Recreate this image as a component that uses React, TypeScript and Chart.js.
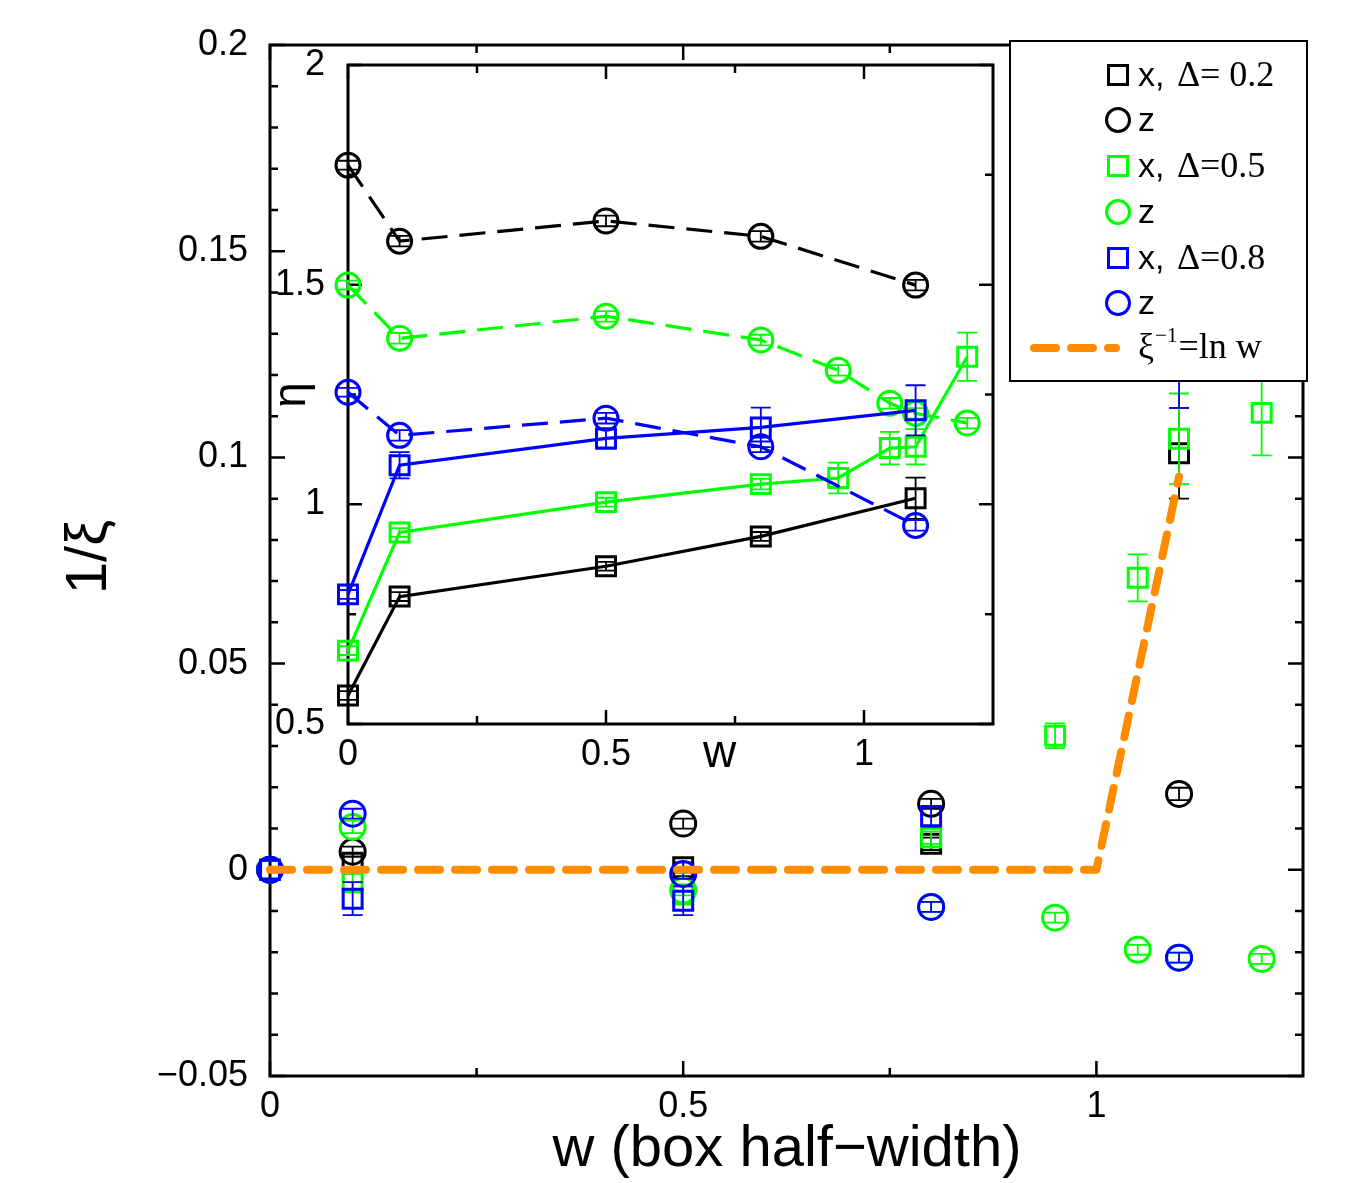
import React, { useEffect, useRef } from 'react';
import { Chart, registerables } from 'chart.js';

Chart.register(...registerables);

// ---------- colours ----------
const BLACK = '#000000';
const GREEN = '#00ff00';
const BLUE = '#0000ff';
const ORANGE = '#ff8c00';

// ---------- main panel: 1/xi versus box half-width w ----------
const wSparse = [0, 0.1, 0.5, 0.8, 1.1];
const wDense = [0, 0.1, 0.5, 0.8, 0.95, 1.05, 1.1, 1.2];

const invXiX02 = [0, 0.0017, 0.0006, 0.0063, 0.101];
const invXiX02Err = [0, 0.0015, 0.0012, 0.0015, 0.011];
const invXiZ02 = [0, 0.0044, 0.0112, 0.016, 0.0184];
const invXiZ02Err = [0, 0.0012, 0.0012, 0.0012, 0.0015];

const invXiX05 = [0, -0.003, -0.006, 0.0078, 0.0325, 0.0708, 0.1045, 0.1108];
const invXiX05Err = [0, 0.002, 0.002, 0.0015, 0.003, 0.0057, 0.011, 0.0103];
const invXiZ05 = [0, 0.0104, -0.005, -0.009, -0.0116, -0.0194, -0.0213, -0.0216];
const invXiZ05Err = [0, 0.0015, 0.0012, 0.0012, 0.0012, 0.0012, 0.0012, 0.0012];

const invXiX08 = [0, -0.007, -0.0075, 0.013, 0.13];
const invXiX08Err = [0, 0.004, 0.0035, 0.0025, 0.018];
const invXiZ08 = [0, 0.0136, -0.001, -0.009, -0.0213];
const invXiZ08Err = [0, 0.0012, 0.0012, 0.0012, 0.0012];

const lnFitW = [0, 1, 1.1];
const lnFitInvXi = [0, 0, 0.0953];

const mainXTicks = [0, 0.5, 1];
const mainYTicks = [-0.05, 0, 0.05, 0.1, 0.15, 0.2];

// ---------- inset: exponent eta versus w ----------
const etaX02 = [0.565, 0.79, 0.859, 0.927, 1.014];
const etaX02Err = [0.01, 0.01, 0.01, 0.01, 0.047];
const etaZ02 = [1.772, 1.599, 1.645, 1.61, 1.499];
const etaZ02Err = [0.01, 0.012, 0.012, 0.012, 0.012];

const etaX05 = [0.667, 0.936, 1.005, 1.046, 1.06, 1.128, 1.131, 1.336];
const etaX05Err = [0.01, 0.01, 0.01, 0.012, 0.035, 0.037, 0.04, 0.055];
const etaZ05 = [1.499, 1.378, 1.428, 1.374, 1.305, 1.23, 1.207, 1.185];
const etaZ05Err = [0.01, 0.012, 0.012, 0.012, 0.012, 0.012, 0.012, 0.012];

const etaX08 = [0.795, 1.089, 1.15, 1.175, 1.214];
const etaX08Err = [0.01, 0.03, 0.023, 0.045, 0.057];
const etaZ08 = [1.255, 1.157, 1.196, 1.131, 0.952];
const etaZ08Err = [0.01, 0.012, 0.012, 0.012, 0.012];

const insetXTicks = [0, 0.5, 1];
const insetYTicks = [0.5, 1, 1.5, 2];

// ---------- text ----------
const mainXTitle = 'w (box half\u2212width)';
const mainYTitle = '1/\u03be';
const insetXTitle = 'w';
const insetYTitle = '\u03b7';
const legendSans = ['x, ', 'z', 'x, ', 'z', 'x, ', 'z'];
const legendSerif = ['\u0394= 0.2', '', '\u0394=0.5', '', '\u0394=0.8', ''];
const legendMarkers = ['rect', 'circle', 'rect', 'circle', 'rect', 'circle'];
const legendColors = [BLACK, BLACK, GREEN, GREEN, BLUE, BLUE];
const fitLabelBase = '\u03be';
const fitLabelSup = '\u22121';
const fitLabelRest = '=ln w';

const SANS = '"Liberation Sans", Arial, sans-serif';
const SERIF = '"Liberation Serif", "Times New Roman", serif';
const TICK_SIZE = 36;

const fmtTick = (v: number) => String(parseFloat(Number(v).toFixed(2))).replace('-', '\u2212');

const steps = (a: number, b: number, s: number) => {
  const out: number[] = [];
  const n = Math.round((b - a) / s);
  for (let i = 0; i <= n; i++) out.push(+(a + i * s).toFixed(6));
  return out;
};

function markerSet(
  label: string, xs: number[], ys: number[], errs: number[], color: string,
  style: string, radius: number, order: number, line?: 'solid' | 'dashed'
) {
  return {
    label,
    data: xs.map((x, i) => ({ x, y: ys[i] })),
    errors: errs,
    pointStyle: style,
    pointRadius: radius,
    pointHoverRadius: radius,
    pointBorderWidth: 3,
    pointHoverBorderWidth: 3,
    pointBorderColor: color,
    pointBackgroundColor: 'rgba(0,0,0,0)',
    borderColor: color,
    backgroundColor: 'rgba(0,0,0,0)',
    showLine: !!line,
    borderWidth: 3.2,
    borderDash: line === 'dashed' ? [26, 12] : [],
    order,
    clip: false,
  };
}

// vertical error bars drawn right after each dataset
const errorBarPlugin = {
  id: 'errorBars',
  afterDatasetDraw(chart: any, args: any) {
    const ds = chart.data.datasets[args.index];
    const errs: number[] | undefined = ds.errors;
    if (!errs) return;
    const ys = chart.scales.y;
    const ctx = chart.ctx;
    ctx.save();
    ctx.strokeStyle = ds.borderColor;
    ctx.lineWidth = 1.8;
    ctx.setLineDash([]);
    args.meta.data.forEach((pt: any, i: number) => {
      const e = errs[i];
      if (!e) return;
      const v = ds.data[i].y;
      const top = ys.getPixelForValue(v + e);
      const bot = ys.getPixelForValue(v - e);
      const cw = 10;
      ctx.beginPath();
      ctx.moveTo(pt.x, top);
      ctx.lineTo(pt.x, bot);
      ctx.moveTo(pt.x - cw, top);
      ctx.lineTo(pt.x + cw, top);
      ctx.moveTo(pt.x - cw, bot);
      ctx.lineTo(pt.x + cw, bot);
      ctx.stroke();
    });
    ctx.restore();
  },
};

// box frame with inward ticks on all four sides
function framePlugin(o: {
  xMajor: number[]; xMinor: number[]; yMajor: number[]; yMinor: number[];
  major: number; minor: number; width: number;
}) {
  return {
    id: 'frame',
    beforeDatasetsDraw(chart: any) {
      const { ctx, chartArea: a } = chart;
      const xs = chart.scales.x;
      const ys = chart.scales.y;
      ctx.save();
      ctx.strokeStyle = BLACK;
      ctx.lineWidth = o.width;
      ctx.lineCap = 'square';
      ctx.strokeRect(a.left, a.top, a.right - a.left, a.bottom - a.top);
      ctx.lineWidth = 2.5;
      ctx.lineCap = 'butt';
      const xt = (v: number, len: number) => {
        const p = xs.getPixelForValue(v);
        ctx.moveTo(p, a.bottom); ctx.lineTo(p, a.bottom - len);
        ctx.moveTo(p, a.top); ctx.lineTo(p, a.top + len);
      };
      const yt = (v: number, len: number) => {
        const p = ys.getPixelForValue(v);
        ctx.moveTo(a.left, p); ctx.lineTo(a.left + len, p);
        ctx.moveTo(a.right, p); ctx.lineTo(a.right - len, p);
      };
      ctx.beginPath();
      o.xMajor.forEach((v) => xt(v, o.major));
      o.xMinor.forEach((v) => xt(v, o.minor));
      o.yMajor.forEach((v) => yt(v, o.major));
      o.yMinor.forEach((v) => yt(v, o.minor));
      ctx.stroke();
      ctx.restore();
    },
  };
}

const isMajor = (v: number, list: number[]) => list.some((m) => Math.abs(m - v) < 1e-9);

const mainAnnotations = {
  id: 'mainText',
  afterDraw(chart: any) {
    const ctx = chart.ctx;
    ctx.save();
    ctx.fillStyle = BLACK;
    // axis titles
    ctx.font = `58px ${SANS}`;
    ctx.textAlign = 'center';
    ctx.textBaseline = 'alphabetic';
    ctx.fillText(mainXTitle, 787, 1166);
    ctx.save();
    ctx.translate(106, 557);
    ctx.rotate(-Math.PI / 2);
    ctx.fillText(mainYTitle, 0, 0);
    ctx.restore();

    // legend box
    const bx = 1010, by = 41, bw = 297, bh = 340;
    ctx.fillStyle = '#ffffff';
    ctx.fillRect(bx, by, bw, bh);
    ctx.strokeStyle = BLACK;
    ctx.lineWidth = 2;
    ctx.strokeRect(bx, by, bw, bh);

    const rows = [75, 120, 166, 212, 258, 303];
    const mx = 1118;
    const tx = 1138;
    rows.forEach((ry, i) => {
      ctx.strokeStyle = legendColors[i];
      ctx.lineWidth = 3;
      ctx.beginPath();
      if (legendMarkers[i] === 'rect') {
        ctx.rect(mx - 9.5, ry - 9.5, 19, 19);
      } else {
        ctx.arc(mx, ry, 11.5, 0, Math.PI * 2);
      }
      ctx.stroke();
      ctx.fillStyle = BLACK;
      ctx.textAlign = 'left';
      ctx.font = `34px ${SANS}`;
      ctx.fillText(legendSans[i], tx, ry + 11);
      if (legendSerif[i]) {
        const w = ctx.measureText(legendSans[i]).width;
        ctx.font = `36px ${SERIF}`;
        ctx.fillText(legendSerif[i], tx + w + 3, ry + 11);
      }
    });

    // fitted line entry
    const fy = 348;
    ctx.strokeStyle = ORANGE;
    ctx.lineWidth = 8;
    ctx.lineCap = 'round';
    ctx.setLineDash([22, 15]);
    ctx.beginPath();
    ctx.moveTo(1034, fy);
    ctx.lineTo(1116, fy);
    ctx.stroke();
    ctx.setLineDash([]);
    ctx.fillStyle = BLACK;
    ctx.font = `36px ${SERIF}`;
    ctx.fillText(fitLabelBase, tx, fy + 10);
    let cx = tx + ctx.measureText(fitLabelBase).width + 1;
    ctx.font = `21px ${SERIF}`;
    ctx.fillText(fitLabelSup, cx, fy - 6);
    cx += ctx.measureText(fitLabelSup).width + 1;
    ctx.font = `36px ${SERIF}`;
    ctx.fillText(fitLabelRest, cx, fy + 10);
    ctx.restore();
  },
};

const insetAnnotations = {
  id: 'insetText',
  afterDraw(chart: any) {
    const ctx = chart.ctx;
    const xs = chart.scales.x;
    const a = chart.chartArea;
    ctx.save();
    ctx.fillStyle = BLACK;
    ctx.font = `46px ${SANS}`;
    ctx.textAlign = 'center';
    ctx.textBaseline = 'alphabetic';
    ctx.fillText(insetXTitle, xs.getPixelForValue(0.72), a.bottom + 43);
    ctx.save();
    ctx.translate(a.left - 43, a.top + 330);
    ctx.rotate(-Math.PI / 2);
    ctx.fillText(insetYTitle, 0, 0);
    ctx.restore();
    ctx.restore();
  },
};

function tickAxis(
  min: number, max: number, ticks: number[], padding: number, fit: (s: any) => void
) {
  return {
    type: 'linear' as const,
    min,
    max,
    grid: { display: false, drawTicks: false },
    border: { display: false },
    ticks: {
      font: { family: SANS, size: TICK_SIZE },
      color: BLACK,
      padding,
      autoSkip: false,
      maxRotation: 0,
      callback: (v: any) => fmtTick(Number(v)),
    },
    afterBuildTicks: (s: any) => {
      s.ticks = ticks.map((value) => ({ value }));
    },
    afterFit: fit,
  };
}

export default function App() {
  const mainRef = useRef<HTMLCanvasElement>(null);
  const insetRef = useRef<HTMLCanvasElement>(null);

  useEffect(() => {
    const mainYMinor = steps(-0.05, 0.2, 0.01).filter((v) => !isMajor(v, mainYTicks));
    const main = new Chart(mainRef.current as HTMLCanvasElement, {
      type: 'scatter',
      data: {
        datasets: [
          {
            label: 'fit',
            data: lnFitW.map((x, i) => ({ x, y: lnFitInvXi[i] })),
            showLine: true,
            borderColor: ORANGE,
            borderWidth: 8,
            borderDash: [22, 15],
            borderCapStyle: 'round',
            borderJoinStyle: 'round',
            pointRadius: 0,
            pointHoverRadius: 0,
            order: 0,
            clip: false,
          } as any,
          markerSet('z, Δ=0.8', wSparse, invXiZ08, invXiZ08Err, BLUE, 'circle', 12.5, 1),
          markerSet('x, Δ=0.8', wSparse, invXiX08, invXiX08Err, BLUE, 'rect', 13.4, 2),
          markerSet('z, Δ=0.5', wDense, invXiZ05, invXiZ05Err, GREEN, 'circle', 12.5, 3),
          markerSet('x, Δ=0.5', wDense, invXiX05, invXiX05Err, GREEN, 'rect', 13.4, 4),
          markerSet('z, Δ=0.2', wSparse, invXiZ02, invXiZ02Err, BLACK, 'circle', 12.5, 5),
          markerSet('x, Δ=0.2', wSparse, invXiX02, invXiX02Err, BLACK, 'rect', 13.4, 6),
        ] as any,
      },
      options: {
        responsive: false,
        animation: false,
        devicePixelRatio: 1,
        events: [],
        layout: { padding: { left: 0, right: 57, top: 45, bottom: 0 } },
        plugins: { legend: { display: false }, tooltip: { enabled: false } },
        scales: {
          x: tickAxis(0, 1.25, mainXTicks, 9, (s) => { s.height = 107; }),
          y: tickAxis(-0.05, 0.2, mainYTicks, 22, (s) => { s.width = 270; }),
        } as any,
      },
      plugins: [
        framePlugin({
          xMajor: mainXTicks, xMinor: [0.25, 0.75],
          yMajor: mainYTicks, yMinor: mainYMinor,
          major: 15, minor: 8, width: 3,
        }),
        errorBarPlugin,
        mainAnnotations,
      ],
    });

    const inset = new Chart(insetRef.current as HTMLCanvasElement, {
      type: 'scatter',
      data: {
        datasets: [
          markerSet('z, Δ=0.8', wSparse, etaZ08, etaZ08Err, BLUE, 'circle', 12, 1, 'dashed'),
          markerSet('x, Δ=0.8', wSparse, etaX08, etaX08Err, BLUE, 'rect', 13.4, 2, 'solid'),
          markerSet('z, Δ=0.5', wDense, etaZ05, etaZ05Err, GREEN, 'circle', 12, 3, 'dashed'),
          markerSet('x, Δ=0.5', wDense, etaX05, etaX05Err, GREEN, 'rect', 13.4, 4, 'solid'),
          markerSet('z, Δ=0.2', wSparse, etaZ02, etaZ02Err, BLACK, 'circle', 12, 5, 'dashed'),
          markerSet('x, Δ=0.2', wSparse, etaX02, etaX02Err, BLACK, 'rect', 13.4, 6, 'solid'),
        ] as any,
      },
      options: {
        responsive: false,
        animation: false,
        devicePixelRatio: 1,
        events: [],
        layout: { padding: { left: 0, right: 17, top: 55, bottom: 0 } },
        plugins: { legend: { display: false }, tooltip: { enabled: false } },
        scales: {
          x: tickAxis(0, 1.25, insetXTicks, 9, (s) => { s.height = 66; }),
          y: tickAxis(0.5, 2, insetYTicks, 23, (s) => { s.width = 88; }),
        } as any,
      },
      plugins: [
        framePlugin({
          xMajor: insetXTicks, xMinor: [0.25, 0.75],
          yMajor: insetYTicks, yMinor: [0.75, 1.25, 1.75],
          major: 14, minor: 8, width: 3,
        }),
        errorBarPlugin,
        insetAnnotations,
      ],
    });

    return () => {
      main.destroy();
      inset.destroy();
    };
  }, []);

  return (
    <div
      style={{
        position: 'absolute', left: 0, top: 0, width: 1360, height: 1183,
        background: '#ffffff', overflow: 'hidden',
      }}
    >
      <canvas ref={mainRef} width={1360} height={1183} style={{ position: 'absolute', left: 0, top: 0 }} />
      <canvas ref={insetRef} width={750} height={780} style={{ position: 'absolute', left: 260, top: 10 }} />
    </div>
  );
}
